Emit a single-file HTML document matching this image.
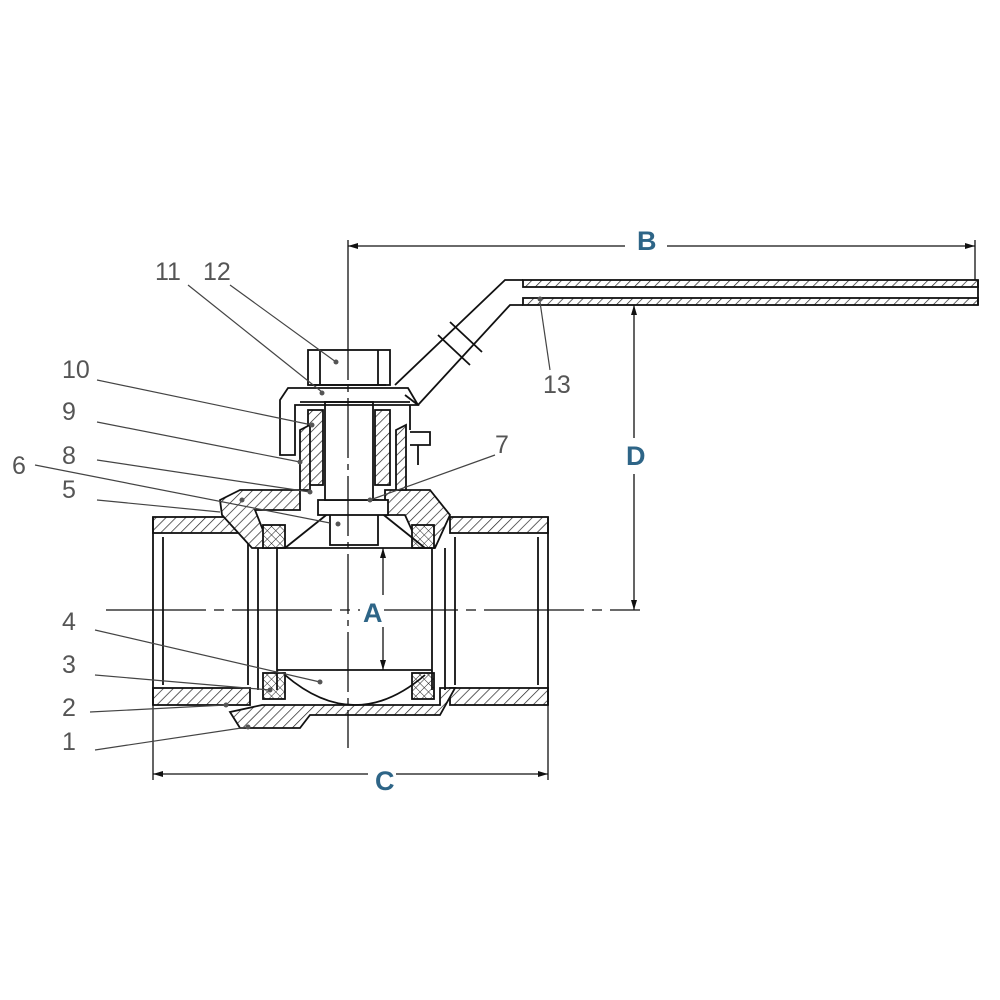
<!DOCTYPE html>
<html><head><style>
body{margin:0;background:#fff}
svg{display:block}
.l{font-family:"Liberation Sans",sans-serif;font-size:25px;fill:#555}
.d{font-family:"Liberation Sans",sans-serif;font-size:27px;font-weight:bold;fill:#2e6587}
</style></head><body>
<svg width="1000" height="1000" viewBox="0 0 1000 1000" xmlns="http://www.w3.org/2000/svg">
<defs>
<pattern id="h" width="7" height="7" patternUnits="userSpaceOnUse" patternTransform="rotate(45)">
<rect width="7" height="7" fill="#fff"/><line x1="0" y1="0" x2="0" y2="7" stroke="#222" stroke-width="1.4"/></pattern>
<pattern id="x" width="6" height="6" patternUnits="userSpaceOnUse" patternTransform="rotate(45)">
<rect width="6" height="6" fill="#fff"/><line x1="0" y1="0" x2="0" y2="6" stroke="#222" stroke-width="1"/><line x1="0" y1="0" x2="6" y2="0" stroke="#222" stroke-width="1"/></pattern>
</defs>
<g stroke="#111" stroke-width="1.8" fill="none">
<rect x="523" y="280" width="455" height="7" fill="url(#h)"/>
<rect x="523" y="298" width="455" height="7" fill="url(#h)"/>
<line x1="978" y1="280" x2="978" y2="305"/>
<path d="M523 280 L505 280 L395 385 M523 305 L510 305 L418 405"/>
<path d="M438 335 L470 365 M450 322 L482 352"/>
<line x1="405" y1="395" x2="418" y2="405"/>
<rect x="153" y="517" width="97" height="16" fill="url(#h)"/>
<rect x="153" y="688" width="97" height="17" fill="url(#h)"/>
<line x1="153" y1="517" x2="153" y2="705"/>
<line x1="163" y1="537" x2="163" y2="685"/>
<line x1="248" y1="537" x2="248" y2="685"/>
<rect x="450" y="517" width="98" height="16" fill="url(#h)"/>
<rect x="450" y="688" width="98" height="17" fill="url(#h)"/>
<line x1="548" y1="517" x2="548" y2="705"/>
<line x1="538" y1="537" x2="538" y2="685"/>
<line x1="455" y1="537" x2="455" y2="685"/>
<path d="M220 500 L240 490 L300 490 L300 510 L255 510 L270 548 L252 548 L222 515 Z" fill="url(#h)"/>
<path d="M385 490 L430 490 L450 515 L435 548 L420 548 L405 515 L385 515 Z" fill="url(#h)"/>
<path d="M230 712 L262 705 L440 705 L440 688 L455 688 L440 715 L310 715 L300 728 L240 728 Z" fill="url(#h)"/>
<rect x="263" y="525" width="22" height="23" fill="url(#x)"/>
<rect x="412" y="525" width="22" height="23" fill="url(#x)"/>
<rect x="263" y="673" width="22" height="26" fill="url(#x)"/>
<rect x="412" y="673" width="22" height="26" fill="url(#x)"/>
<line x1="277" y1="548" x2="432" y2="548"/>
<line x1="277" y1="670" x2="432" y2="670"/>
<line x1="258" y1="548" x2="258" y2="690"/>
<line x1="277" y1="548" x2="277" y2="690"/>
<line x1="432" y1="548" x2="432" y2="690"/>
<line x1="445" y1="548" x2="445" y2="690"/>
<path d="M285 675 Q355 735 425 675"/>
<path d="M285 548 Q320 520 330 512 M425 548 Q390 520 380 512"/>
<rect x="330" y="500" width="48" height="45" fill="#fff"/>
<rect x="318" y="500" width="70" height="15" fill="#fff"/>
<rect x="325" y="402" width="48" height="98" fill="#fff"/>
<rect x="308" y="410" width="15" height="75" fill="url(#h)"/>
<rect x="375" y="410" width="15" height="75" fill="url(#h)"/>
<path d="M300 430 L310 425 L310 490 L300 490 Z M396 430 L406 425 L406 490 L396 490Z" fill="url(#h)"/>
<path d="M288 388 L408 388 L418 405 L295 405 L295 455 L280 455 L280 400 Z"/>
<line x1="300" y1="402" x2="410" y2="402"/>
<path d="M410 405 V430 M410 432 H430 V445 H410 M418 445 V465"/>
<rect x="308" y="350" width="82" height="35" fill="#fff"/>
<line x1="320" y1="350" x2="320" y2="385"/><line x1="378" y1="350" x2="378" y2="385"/>
<line x1="312" y1="385" x2="386" y2="385"/>
</g>
<g stroke="#111" stroke-width="1.3">
<line x1="348" y1="320" x2="348" y2="748" stroke-dasharray="60,6,6,6"/>
<line x1="106" y1="610" x2="640" y2="610" stroke-dasharray="100,8,10,8"/>
<line x1="348" y1="246" x2="975" y2="246"/>
<line x1="348" y1="240" x2="348" y2="320"/>
<line x1="975" y1="240" x2="975" y2="280"/>
<line x1="634" y1="305" x2="634" y2="610"/>
<line x1="383" y1="548" x2="383" y2="670"/>
<line x1="153" y1="774" x2="548" y2="774"/>
<line x1="153" y1="705" x2="153" y2="780"/>
<line x1="548" y1="705" x2="548" y2="780"/>
</g>
<rect x="625" y="228" width="42" height="34" fill="#fff"/>
<rect x="620" y="438" width="30" height="36" fill="#fff"/>
<rect x="360" y="595" width="24" height="32" fill="#fff"/>
<rect x="368" y="760" width="28" height="32" fill="#fff"/>
<g fill="#111">
<path d="M348 246 l10 -3 v6z M975 246 l-10 -3 v6z M634 305 l-3 10 h6z M634 610 l-3 -10 h6z M383 548 l-3 10 h6z M383 670 l-3 -10 h6z M153 774 l10 -3 v6z M548 774 l-10 -3 v6z"/>
</g>
<text class="d" x="637" y="250">B</text>
<text class="d" x="626" y="465">D</text>
<text class="d" x="363" y="622">A</text>
<text class="d" x="375" y="790">C</text>
<g stroke="#444" stroke-width="1.2">
<line x1="230" y1="285" x2="336" y2="362"/>
<line x1="188" y1="285" x2="322" y2="392"/>
<line x1="97" y1="380" x2="312" y2="425"/>
<line x1="97" y1="422" x2="300" y2="462"/>
<line x1="97" y1="460" x2="310" y2="492"/>
<line x1="35" y1="465" x2="330" y2="523"/>
<line x1="97" y1="500" x2="220" y2="512"/>
<line x1="495" y1="455" x2="370" y2="500"/>
<line x1="540" y1="302" x2="550" y2="370"/>
<line x1="95" y1="630" x2="320" y2="682"/>
<line x1="95" y1="675" x2="270" y2="690"/>
<line x1="90" y1="712" x2="226" y2="705"/>
<line x1="95" y1="750" x2="248" y2="727"/>
</g>
<g fill="#555">
<circle cx="336" cy="362" r="2.5"/><circle cx="322" cy="393" r="2.5"/><circle cx="312" cy="425" r="2.5"/>
<circle cx="300" cy="462" r="2.5"/><circle cx="310" cy="492" r="2.5"/><circle cx="338" cy="524" r="2.5"/>
<circle cx="370" cy="500" r="2.5"/><circle cx="540" cy="299" r="2.5"/><circle cx="320" cy="682" r="2.5"/>
<circle cx="270" cy="690" r="2.5"/><circle cx="226" cy="705" r="2.5"/><circle cx="248" cy="727" r="2.5"/>
<circle cx="242" cy="500" r="2.5"/>
</g>
<text class="l" x="155" y="280">11</text>
<text class="l" x="203" y="280">12</text>
<text class="l" x="62" y="378">10</text>
<text class="l" x="62" y="420">9</text>
<text class="l" x="62" y="464">8</text>
<text class="l" x="12" y="474">6</text>
<text class="l" x="62" y="498">5</text>
<text class="l" x="495" y="453">7</text>
<text class="l" x="543" y="393">13</text>
<text class="l" x="62" y="630">4</text>
<text class="l" x="62" y="673">3</text>
<text class="l" x="62" y="716">2</text>
<text class="l" x="62" y="750">1</text>
</svg>
</body></html>
